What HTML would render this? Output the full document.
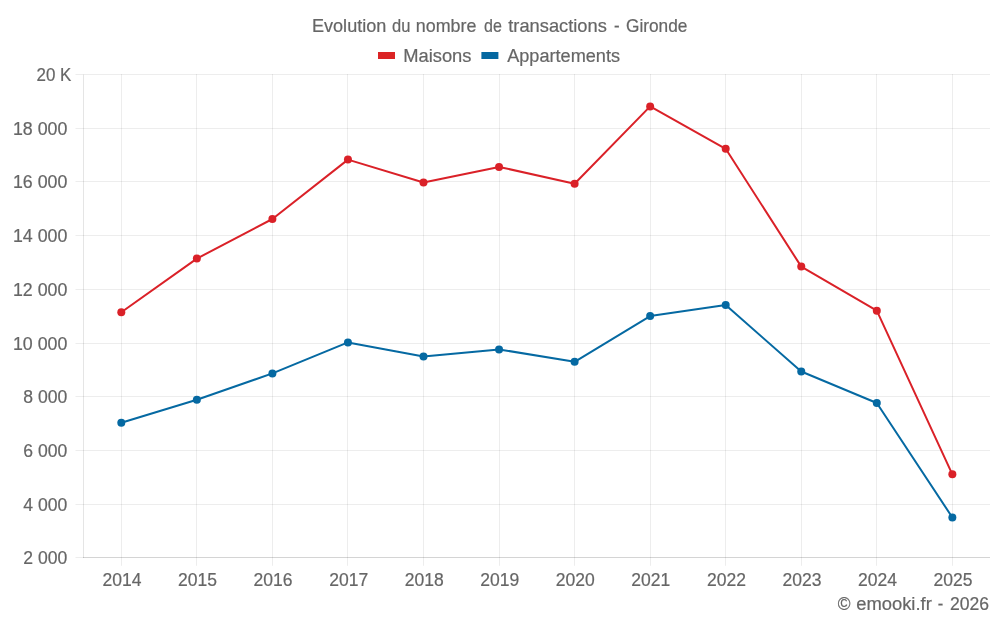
<!DOCTYPE html>
<html><head><meta charset="utf-8"><title>chart</title>
<style>
html,body{margin:0;padding:0;background:#fff;}
svg{display:block;will-change:transform;transform:translateZ(0)}
text{font-family:"Liberation Sans",sans-serif;fill:#666;stroke:#666;stroke-width:0.2px;}
</style></head><body>
<svg width="1000" height="625" viewBox="0 0 1000 625">
<rect width="1000" height="625" fill="#fff"/>

<g stroke="#000" stroke-opacity="0.072" stroke-width="1"><line x1="75.5" y1="74.5" x2="990" y2="74.5"/><line x1="75.5" y1="128.5" x2="990" y2="128.5"/><line x1="75.5" y1="181.5" x2="990" y2="181.5"/><line x1="75.5" y1="235.5" x2="990" y2="235.5"/><line x1="75.5" y1="289.5" x2="990" y2="289.5"/><line x1="75.5" y1="343.5" x2="990" y2="343.5"/><line x1="75.5" y1="396.5" x2="990" y2="396.5"/><line x1="75.5" y1="450.5" x2="990" y2="450.5"/><line x1="75.5" y1="504.5" x2="990" y2="504.5"/><line x1="75.5" y1="557.5" x2="990" y2="557.5"/><line x1="121.5" y1="74" x2="121.5" y2="565.8"/><line x1="196.5" y1="74" x2="196.5" y2="565.8"/><line x1="272.5" y1="74" x2="272.5" y2="565.8"/><line x1="347.5" y1="74" x2="347.5" y2="565.8"/><line x1="423.5" y1="74" x2="423.5" y2="565.8"/><line x1="499.5" y1="74" x2="499.5" y2="565.8"/><line x1="574.5" y1="74" x2="574.5" y2="565.8"/><line x1="650.5" y1="74" x2="650.5" y2="565.8"/><line x1="725.5" y1="74" x2="725.5" y2="565.8"/><line x1="801.5" y1="74" x2="801.5" y2="565.8"/><line x1="876.5" y1="74" x2="876.5" y2="565.8"/><line x1="952.5" y1="74" x2="952.5" y2="565.8"/></g>
<g stroke="#000" stroke-opacity="0.1" stroke-width="1"><line x1="83" y1="557.5" x2="990" y2="557.5"/><line x1="83.5" y1="74.6" x2="83.5" y2="558"/></g>
<rect x="378" y="52" width="17" height="7" fill="#db2425"/>
<rect x="481.4" y="52" width="17" height="7" fill="#0568a1"/>
<text x="311.98" y="31.50" font-size="17.7" textLength="74.38" lengthAdjust="spacingAndGlyphs">Evolution</text>
<text x="392.00" y="31.50" font-size="17.7" textLength="18.38" lengthAdjust="spacingAndGlyphs">du</text>
<text x="415.79" y="31.50" font-size="17.7" textLength="60.65" lengthAdjust="spacingAndGlyphs">nombre</text>
<text x="484.00" y="31.50" font-size="17.7" textLength="17.85" lengthAdjust="spacingAndGlyphs">de</text>
<text x="508.30" y="31.50" font-size="17.7" textLength="98.54" lengthAdjust="spacingAndGlyphs">transactions</text>
<text x="614.00" y="31.50" font-size="17.7" textLength="5.60" lengthAdjust="spacingAndGlyphs">-</text>
<text x="626.00" y="31.50" font-size="17.7" textLength="61.44" lengthAdjust="spacingAndGlyphs">Gironde</text>
<text x="403.18" y="61.75" font-size="18" textLength="68.32" lengthAdjust="spacingAndGlyphs">Maisons</text>
<text x="507.20" y="61.75" font-size="18" textLength="112.80" lengthAdjust="spacingAndGlyphs">Appartements</text>
<text x="36.50" y="80.90" font-size="18" textLength="34.81" lengthAdjust="spacingAndGlyphs">20 K</text>
<text x="12.91" y="134.90" font-size="18" textLength="54.40" lengthAdjust="spacingAndGlyphs">18 000</text>
<text x="12.91" y="187.90" font-size="18" textLength="54.40" lengthAdjust="spacingAndGlyphs">16 000</text>
<text x="12.91" y="241.90" font-size="18" textLength="54.40" lengthAdjust="spacingAndGlyphs">14 000</text>
<text x="12.91" y="295.90" font-size="18" textLength="54.40" lengthAdjust="spacingAndGlyphs">12 000</text>
<text x="12.91" y="349.90" font-size="18" textLength="54.40" lengthAdjust="spacingAndGlyphs">10 000</text>
<text x="23.30" y="402.90" font-size="18" textLength="44.01" lengthAdjust="spacingAndGlyphs">8 000</text>
<text x="23.30" y="456.90" font-size="18" textLength="44.01" lengthAdjust="spacingAndGlyphs">6 000</text>
<text x="23.30" y="510.90" font-size="18" textLength="44.01" lengthAdjust="spacingAndGlyphs">4 000</text>
<text x="23.30" y="563.90" font-size="18" textLength="44.01" lengthAdjust="spacingAndGlyphs">2 000</text>
<text x="102.50" y="585.70" font-size="18" textLength="39.01" lengthAdjust="spacingAndGlyphs">2014</text>
<text x="178.05" y="585.70" font-size="18" textLength="39.01" lengthAdjust="spacingAndGlyphs">2015</text>
<text x="253.60" y="585.70" font-size="18" textLength="39.01" lengthAdjust="spacingAndGlyphs">2016</text>
<text x="329.15" y="585.70" font-size="18" textLength="39.01" lengthAdjust="spacingAndGlyphs">2017</text>
<text x="404.70" y="585.70" font-size="18" textLength="39.01" lengthAdjust="spacingAndGlyphs">2018</text>
<text x="480.25" y="585.70" font-size="18" textLength="39.01" lengthAdjust="spacingAndGlyphs">2019</text>
<text x="555.80" y="585.70" font-size="18" textLength="39.01" lengthAdjust="spacingAndGlyphs">2020</text>
<text x="631.35" y="585.70" font-size="18" textLength="39.01" lengthAdjust="spacingAndGlyphs">2021</text>
<text x="706.90" y="585.70" font-size="18" textLength="39.01" lengthAdjust="spacingAndGlyphs">2022</text>
<text x="782.45" y="585.70" font-size="18" textLength="39.01" lengthAdjust="spacingAndGlyphs">2023</text>
<text x="858.00" y="585.70" font-size="18" textLength="39.01" lengthAdjust="spacingAndGlyphs">2024</text>
<text x="933.55" y="585.70" font-size="18" textLength="39.01" lengthAdjust="spacingAndGlyphs">2025</text>
<text x="837.80" y="609.60" font-size="18" textLength="12.75" lengthAdjust="spacingAndGlyphs">©</text>
<text x="856.20" y="609.60" font-size="18" textLength="75.59" lengthAdjust="spacingAndGlyphs">emooki.fr</text>
<text x="937.80" y="609.60" font-size="18" textLength="5.49" lengthAdjust="spacingAndGlyphs">-</text>
<text x="950.00" y="609.60" font-size="18" textLength="39.11" lengthAdjust="spacingAndGlyphs">2026</text>
<polyline points="121.30,422.70 196.85,399.80 272.40,373.40 347.95,342.40 423.50,356.40 499.05,349.40 574.60,361.80 650.15,316.10 725.70,305.05 801.25,371.50 876.80,403.00 952.35,517.45" fill="none" stroke="#0569a2" stroke-width="2" stroke-linejoin="round"/><circle cx="121.30" cy="422.70" r="4" fill="#0569a2"/><circle cx="196.85" cy="399.80" r="4" fill="#0569a2"/><circle cx="272.40" cy="373.40" r="4" fill="#0569a2"/><circle cx="347.95" cy="342.40" r="4" fill="#0569a2"/><circle cx="423.50" cy="356.40" r="4" fill="#0569a2"/><circle cx="499.05" cy="349.40" r="4" fill="#0569a2"/><circle cx="574.60" cy="361.80" r="4" fill="#0569a2"/><circle cx="650.15" cy="316.10" r="4" fill="#0569a2"/><circle cx="725.70" cy="305.05" r="4" fill="#0569a2"/><circle cx="801.25" cy="371.50" r="4" fill="#0569a2"/><circle cx="876.80" cy="403.00" r="4" fill="#0569a2"/><circle cx="952.35" cy="517.45" r="4" fill="#0569a2"/>
<polyline points="121.30,312.20 196.85,258.60 272.40,219.00 347.95,159.60 423.50,182.50 499.05,166.90 574.60,183.70 650.15,106.40 725.70,148.80 801.25,266.60 876.80,310.70 952.35,474.30" fill="none" stroke="#da2128" stroke-width="2" stroke-linejoin="round"/><circle cx="121.30" cy="312.20" r="4" fill="#da2128"/><circle cx="196.85" cy="258.60" r="4" fill="#da2128"/><circle cx="272.40" cy="219.00" r="4" fill="#da2128"/><circle cx="347.95" cy="159.60" r="4" fill="#da2128"/><circle cx="423.50" cy="182.50" r="4" fill="#da2128"/><circle cx="499.05" cy="166.90" r="4" fill="#da2128"/><circle cx="574.60" cy="183.70" r="4" fill="#da2128"/><circle cx="650.15" cy="106.40" r="4" fill="#da2128"/><circle cx="725.70" cy="148.80" r="4" fill="#da2128"/><circle cx="801.25" cy="266.60" r="4" fill="#da2128"/><circle cx="876.80" cy="310.70" r="4" fill="#da2128"/><circle cx="952.35" cy="474.30" r="4" fill="#da2128"/>
</svg></body></html>
